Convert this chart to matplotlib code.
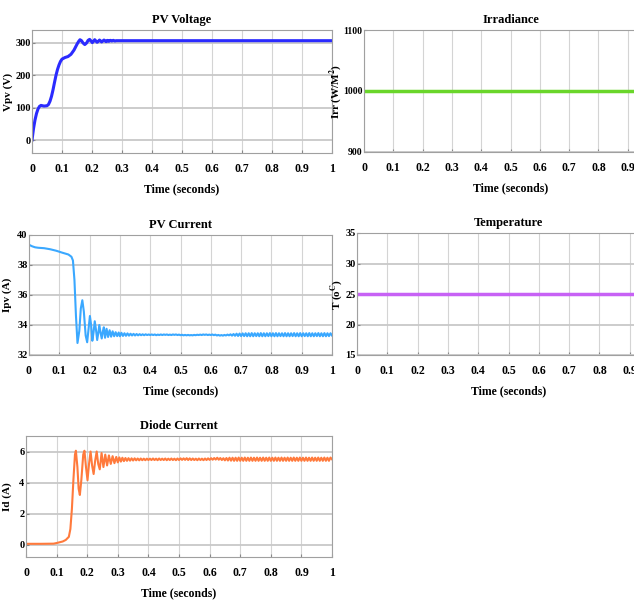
import numpy as np
import matplotlib
matplotlib.use("Agg")
import matplotlib.pyplot as plt

plt.rcParams['font.family'] = ['Liberation Serif', 'DejaVu Serif']
plt.rcParams['font.weight'] = 'bold'
plt.rcParams['mathtext.fontset'] = 'stix'

# PV voltage (V)
t_vpv = [0, 0.005, 0.01, 0.015, 0.02, 0.025, 0.03, 0.04, 0.05, 0.055, 0.06, 0.065,
         0.07, 0.075, 0.08, 0.085, 0.09, 0.095, 0.10, 0.11, 0.12, 0.13, 0.14, 0.145,
         0.15, 0.155, 0.16, 0.165, 0.17, 0.176, 0.182, 0.187, 0.192, 0.197, 0.201,
         0.205, 0.209, 0.213, 0.217, 0.221, 0.225, 0.229, 0.232, 0.236, 0.24, 0.244,
         0.247, 0.251, 0.256, 0.261, 0.266, 0.271, 0.276, 0.281, 0.3, 0.4, 0.6, 0.8, 1.0]
vpv = [0, 35, 62, 82, 96, 104, 107, 105, 106, 110, 120, 135,
       155, 178, 200, 218, 232, 243, 250, 255, 258, 265, 278, 287,
       296, 304, 310, 307, 300, 295, 300, 308, 311, 306, 301,
       305, 310, 306, 302, 305, 309, 306, 303, 306, 309, 306,
       304, 308, 305, 308, 306, 308, 306, 307, 307, 307, 307, 307, 307]

# PV current (A), start-up transient
t_ipv = [0, 0.01, 0.02, 0.03, 0.05, 0.07, 0.09, 0.11, 0.13, 0.14, 0.145, 0.15,
         0.155, 0.16, 0.166, 0.171, 0.176, 0.181, 0.187, 0.192, 0.197, 0.201,
         0.205, 0.209, 0.213, 0.217, 0.221, 0.225, 0.229, 0.232, 0.236, 0.24,
         0.244, 0.247, 0.251, 0.256, 0.261, 0.266, 0.271, 0.276, 0.281, 0.286,
         0.291, 0.296]
ipv = [39.35, 39.25, 39.18, 39.15, 39.12, 39.05, 38.95, 38.82, 38.7, 38.55, 38.3, 37.0,
       34.6, 32.8, 33.6, 35.1, 35.65, 34.9, 33.3, 32.85, 33.8, 34.6,
       34.0, 32.95, 33.5, 34.25, 33.7, 33.0, 33.5, 34.0, 33.5, 33.1,
       33.6, 33.85, 33.15, 33.75, 33.2, 33.65, 33.22, 33.58, 33.25, 33.52,
       33.26, 33.5]

# PV current ripple, 0.30 s .. 1.00 s every 5 ms
ipv_ss = [33.25, 33.48, 33.27, 33.45, 33.28, 33.44, 33.29, 33.42, 33.3, 33.41,
          33.3, 33.4, 33.31, 33.39, 33.32, 33.38, 33.32, 33.38, 33.33, 33.37,
          33.33, 33.37, 33.33, 33.37, 33.32, 33.36, 33.33, 33.37, 33.33, 33.37,
          33.34, 33.37, 33.33, 33.36, 33.33, 33.37, 33.34, 33.37, 33.33, 33.36,
          33.32, 33.35, 33.31, 33.34, 33.31, 33.34, 33.31, 33.33, 33.31, 33.34,
          33.32, 33.35, 33.33, 33.36, 33.33, 33.37, 33.34, 33.37, 33.33, 33.36,
          33.33, 33.37, 33.32, 33.36, 33.3, 33.34, 33.29, 33.33, 33.29, 33.34,
          33.3, 33.36, 33.31, 33.38, 33.29, 33.4, 33.28, 33.42, 33.27, 33.43,
          33.26, 33.44, 33.26, 33.45, 33.25, 33.45, 33.25, 33.46, 33.25, 33.45,
          33.26, 33.45, 33.25, 33.46, 33.25, 33.45, 33.25, 33.45, 33.26, 33.46,
          33.25, 33.45, 33.25, 33.46, 33.25, 33.45, 33.26, 33.45, 33.25, 33.46,
          33.25, 33.45, 33.25, 33.45, 33.26, 33.46, 33.25, 33.45, 33.25, 33.46,
          33.25, 33.45, 33.26, 33.45, 33.25, 33.46, 33.25, 33.45, 33.25, 33.45,
          33.26, 33.46, 33.25, 33.45, 33.25, 33.46, 33.25, 33.45, 33.26, 33.45,
          33.3]

# Diode current (A), start-up transient
t_id = [0, 0.05, 0.09, 0.1, 0.12, 0.13, 0.14, 0.145, 0.15, 0.155, 0.16, 0.163,
        0.168, 0.172, 0.176, 0.181, 0.187, 0.191, 0.196, 0.201, 0.206, 0.211,
        0.216, 0.221, 0.226, 0.231, 0.236, 0.241, 0.247, 0.253, 0.259, 0.265,
        0.271, 0.277, 0.283, 0.289, 0.295]
i_d = [0.05, 0.05, 0.06, 0.1, 0.2, 0.3, 0.5, 1.0, 2.3, 4.2, 5.8, 6.05,
       5.0, 3.6, 3.2, 4.2, 5.8, 6.05, 5.0, 4.15, 5.2, 6.0,
       5.1, 4.55, 5.4, 6.0, 5.2, 4.85, 5.9, 5.0, 5.8, 5.1,
       5.75, 5.2, 5.7, 5.25, 5.65]

# Diode current ripple, 0.30 s .. 1.00 s every 5 ms
id_ss = [5.3, 5.62, 5.35, 5.6, 5.38, 5.58, 5.4, 5.57, 5.41, 5.56,
         5.42, 5.56, 5.43, 5.55, 5.43, 5.55, 5.44, 5.54, 5.44, 5.54,
         5.45, 5.54, 5.45, 5.55, 5.45, 5.54, 5.44, 5.55, 5.45, 5.54,
         5.45, 5.55, 5.44, 5.54, 5.45, 5.55, 5.45, 5.54, 5.44, 5.55,
         5.45, 5.56, 5.46, 5.56, 5.46, 5.57, 5.45, 5.56, 5.45, 5.55,
         5.45, 5.54, 5.44, 5.55, 5.45, 5.54, 5.44, 5.55, 5.45, 5.56,
         5.46, 5.57, 5.47, 5.58, 5.48, 5.6, 5.47, 5.58, 5.45, 5.57,
         5.43, 5.58, 5.42, 5.6, 5.41, 5.6, 5.4, 5.6, 5.4, 5.61,
         5.4, 5.6, 5.4, 5.61, 5.4, 5.6, 5.4, 5.61, 5.4, 5.6,
         5.4, 5.61, 5.4, 5.6, 5.4, 5.61, 5.4, 5.6, 5.4, 5.61,
         5.4, 5.6, 5.4, 5.61, 5.4, 5.6, 5.4, 5.61, 5.4, 5.6,
         5.4, 5.61, 5.4, 5.6, 5.4, 5.61, 5.4, 5.6, 5.4, 5.61,
         5.4, 5.6, 5.4, 5.61, 5.4, 5.6, 5.4, 5.61, 5.4, 5.6,
         5.4, 5.61, 5.4, 5.6, 5.4, 5.61, 5.4, 5.6, 5.4, 5.61,
         5.5]

t_ss = np.linspace(0.30, 1.0, len(ipv_ss))

t_const = [0, 1]
irr = [1000, 1000]
temp = [25, 25]

xticks = [0, 0.1, 0.2, 0.3, 0.4, 0.5, 0.6, 0.7, 0.8, 0.9, 1]
xticklabels = ['0', '0.1', '0.2', '0.3', '0.4', '0.5', '0.6', '0.7', '0.8', '0.9', '1']

W, H = 634, 613
fig = plt.figure(figsize=(W / 100, H / 100), dpi=100)


def make_axes(l, r, top, bot):
    ax = fig.add_axes([l / W, 1 - bot / H, (r - l) / W, (bot - top) / H])
    ax.px = (l, r)
    return ax


def style(ax, title, ylabel, ylim, yticks, ylab_x, ytick_size=7.5):
    ax.set_xlim(0, 1)
    ax.set_ylim(*ylim)
    ax.set_xticks(xticks)
    ax.set_xticklabels(xticklabels)
    ax.set_yticks(yticks)
    ax.tick_params(direction='in', length=2, color='#888888')
    ax.tick_params(axis='x', pad=7, labelsize=8.5)
    ax.tick_params(axis='y', pad=1, labelsize=ytick_size)
    ax.grid(axis='x', color='#d4d4d4', lw=0.8)
    ax.grid(axis='y', color='#c8c8c8', lw=1.3)
    ax.set_axisbelow(True)
    for s in ax.spines.values():
        s.set_color('#a0a0a0')
    ax.set_title(title, fontsize=9, fontweight='bold', pad=5)
    ax.set_xlabel('Time (seconds)', fontsize=8.5, fontweight='bold', labelpad=6)
    ax.set_ylabel(ylabel, fontsize=8, fontweight='bold')
    l, r = ax.px
    ax.yaxis.set_label_coords((ylab_x - l) / (r - l), 0.5)
    ax.yaxis.label.set_verticalalignment('center')


ax1 = make_axes(32, 332, 30, 153)
ax1.plot(t_vpv, vpv, color='#2b2bff', lw=2.2)
style(ax1, 'PV Voltage', 'Vpv (V)', (-40, 340), [0, 100, 200, 300], 8)

ax2 = make_axes(364, 657, 30, 152)
ax2.plot(t_const, irr, color='#6ad62a', lw=2.5)
style(ax2, 'Irradiance', r'Irr (W/M$^\mathbf{2}$)', (900, 1100), [900, 1000, 1100], 336,
      ytick_size=7)

ax3 = make_axes(29, 332, 235, 355)
ax3.plot(list(t_ipv) + list(t_ss), ipv + ipv_ss, color='#3aa8ff', lw=1.5)
style(ax3, 'PV Current', 'Ipv (A)', (32, 40), [32, 34, 36, 38, 40], 7)

ax4 = make_axes(357, 660, 233, 355)
ax4.plot(t_const, temp, color='#c762f5', lw=2.5)
style(ax4, 'Temperature', r'T (o$^\mathbf{C}$)', (15, 35), [15, 20, 25, 30, 35], 337)

ax5 = make_axes(26, 332, 436, 557)
ax5.plot(list(t_id) + list(t_ss), i_d + id_ss, color='#ff7a3c', lw=1.5)
style(ax5, 'Diode Current', 'Id (A)', (-0.8, 7), [0, 2, 4, 6], 7)

fig.savefig('out.png', dpi=100)
